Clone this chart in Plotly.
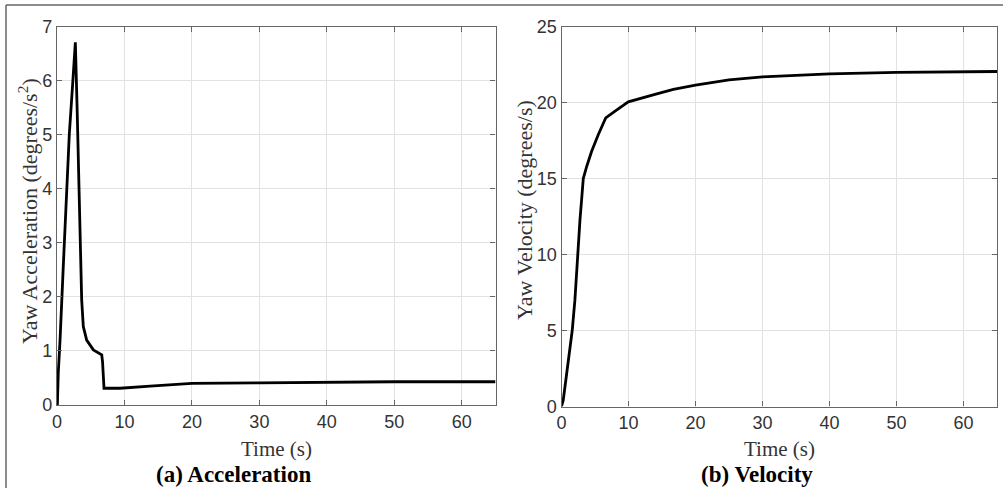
import plotly.graph_objects as go

# Acceleration data (degrees/s^2)
acc_t = [0.0, 0.05, 0.19, 0.45, 0.93, 1.34, 1.82, 2.3, 2.72, 3.0, 3.31, 3.52, 3.66, 3.9,
         4.4, 5.39, 6.1, 6.63, 6.75, 6.97, 7.5, 9.35, 13.8, 20.0, 30.0, 40.0, 50.0, 65.0]
acc_v = [0.0, 0.0, 0.6, 1.2, 2.56, 3.8, 5.0, 5.9, 6.71, 5.4, 3.8, 2.56, 1.94, 1.45,
         1.2, 1.02, 0.96, 0.93, 0.8, 0.31, 0.31, 0.31, 0.35, 0.40, 0.41, 0.42, 0.43, 0.43]

# Velocity data (degrees/s)
vel_t = [0.0, 0.25, 0.52, 1.0, 1.6, 2.0, 2.4, 2.76, 3.0, 3.25, 3.76, 4.5, 5.5, 6.6, 8.0,
         9.97, 13.95, 16.7, 20.0, 25.0, 30.0, 35.0, 40.0, 50.0, 65.0]
vel_v = [0.0, 0.4, 1.3, 3.0, 5.0, 7.0, 10.0, 12.3, 13.6, 15.0, 15.8, 16.8, 17.9, 19.0, 19.45,
         20.05, 20.55, 20.87, 21.15, 21.5, 21.7, 21.82, 21.9, 22.0, 22.05]

x_ticks = [0, 10, 20, 30, 40, 50, 60]
acc_ticks = [0, 1, 2, 3, 4, 5, 6, 7]
vel_ticks = [0, 5, 10, 15, 20, 25]

W, H = 1003, 488
fig = go.Figure()
fig.add_trace(go.Scatter(x=acc_t, y=acc_v, mode="lines", line=dict(color="black", width=2.8),
                         xaxis="x", yaxis="y", showlegend=False))
fig.add_trace(go.Scatter(x=vel_t, y=vel_v, mode="lines", line=dict(color="black", width=2.8),
                         xaxis="x2", yaxis="y2", showlegend=False))

tickfont = dict(family="Liberation Sans, Arial", size=18, color="#333333")
titlefont = dict(family="Liberation Serif, Times New Roman", size=22, color="#333333")
ax_common = dict(showline=True, linecolor="#666666", linewidth=1.3, mirror="ticks",
                 ticks="inside", ticklen=5, tickcolor="#666666", showgrid=True,
                 gridcolor="#e2e2e2", gridwidth=1, zeroline=False, tickfont=tickfont,
                 automargin=False)

L0, L1 = 57, 495.5
R0, R1 = 561.5, 997
TOP = 26.7
fig.update_layout(
    width=W, height=H, margin=dict(l=0, r=0, t=0, b=0),
    paper_bgcolor="white", plot_bgcolor="white",
    xaxis=dict(domain=[L0 / W, L1 / W], range=[0, 65], tickvals=x_ticks, anchor="y", **ax_common),
    yaxis=dict(domain=[(H - 405) / H, (H - TOP) / H], range=[0, 7], tickvals=acc_ticks,
               anchor="x", **ax_common),
    xaxis2=dict(domain=[R0 / W, R1 / W], range=[0, 65], tickvals=x_ticks, anchor="y2", **ax_common),
    yaxis2=dict(domain=[(H - 406.5) / H, (H - TOP) / H], range=[0, 25], tickvals=vel_ticks,
                anchor="x2", **ax_common),
)

def ann(text, xpx, ypx, font, angle=0):
    fig.add_annotation(text=text, x=xpx / W, y=(H - ypx) / H, xref="paper", yref="paper",
                       showarrow=False, font=font, textangle=angle,
                       xanchor="center", yanchor="middle")

ann("Time (s)", (L0 + L1) / 2, 449, dict(family="Liberation Serif, Times New Roman", size=21, color="#333333"))
ann("Time (s)", (R0 + R1) / 2, 449, dict(family="Liberation Serif, Times New Roman", size=21, color="#333333"))
ann("Yaw Acceleration (degrees/s<sup>2</sup>)", 28, 211, titlefont, -90)
ann("Yaw Velocity (degrees/s)", 524, 210, titlefont, -90)

capfont = dict(family="Liberation Serif, Times New Roman", size=23, color="black")
ann("<b>(a) Acceleration</b>", 233, 474, capfont)
ann("<b>(b) Velocity</b>", 757, 474, capfont)

# outer frame lines
fig.add_shape(type="line", xref="paper", yref="paper", x0=6 / W, x1=1.0, y0=(H - 5) / H, y1=(H - 5) / H,
              line=dict(color="#666666", width=1.5))
fig.add_shape(type="line", xref="paper", yref="paper", x0=6 / W, x1=6 / W, y0=0, y1=(H - 5) / H,
              line=dict(color="#666666", width=1.5))

fig.write_html("out.html", config={"displayModeBar": False},
               post_script="document.body.style.margin='0';document.body.style.overflow='hidden';")
